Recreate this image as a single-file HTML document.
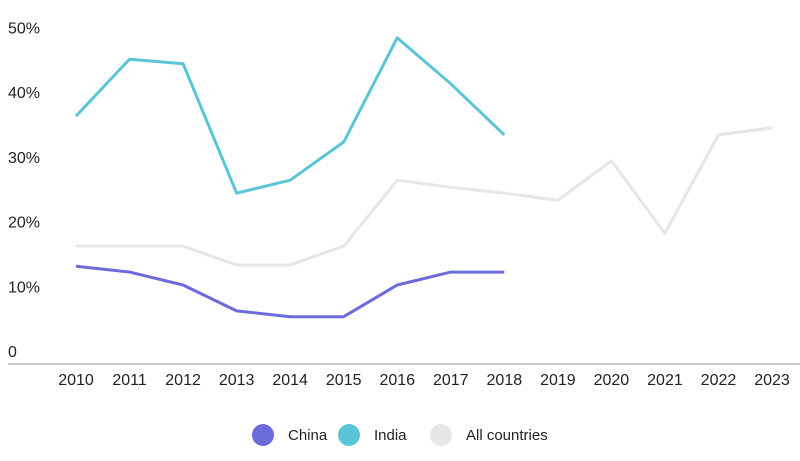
<!DOCTYPE html>
<html><head><meta charset="utf-8"><style>
body{margin:0;background:#fff;}
svg{display:block;font-family:"Liberation Sans",sans-serif;}
</style></head><body>
<svg id="c" width="800" height="461"></svg>
<script>
const years=[2010,2011,2012,2013,2014,2015,2016,2017,2018,2019,2020,2021,2022,2023];
const yTicks=[0,10,20,30,40,50];
const allCountries=[16.2,16.2,16.2,13.3,13.3,16.2,26.4,25.3,24.4,23.3,29.4,18.2,33.4,34.5];
const china=[13.1,12.2,10.2,6.2,5.3,5.3,10.2,12.2,12.2];
const india=[36.3,45.1,44.4,24.4,26.4,32.3,48.4,41.3,33.4];
const svg=document.getElementById('c');
const NS='http://www.w3.org/2000/svg';
function x(i){return 76+i*53.54;}
function y(v){return 351-v*6.47;}
function mk(t,a){const e=document.createElementNS(NS,t);for(const k in a)e.setAttribute(k,a[k]);svg.appendChild(e);return e;}
yTicks.forEach(v=>{
  const t=mk('text',{x:8,y:y(v)+6,'font-size':16,fill:'#222'});
  t.textContent=v===0?'0':v+'%';
  
  
});
const ax=mk('line',{x1:8,x2:800,y1:364,y2:364,stroke:'#ccc','stroke-width':2});


years.forEach((yr,i)=>{
  const t=mk('text',{x:x(i),y:385,'font-size':16,fill:'#222','text-anchor':'middle'});
  t.textContent=yr;
  
  
});
function line(d,col,name){
  const p=mk('polyline',{points:d.map((v,i)=>x(i)+','+y(v)).join(' '),fill:'none',stroke:col,'stroke-width':3,'stroke-linejoin':'round'});
  
  
}
line(allCountries,'#e6e6e6','all-countries-line');
line(china,'#6b6bdc','china-line');
line(india,'#5bc5d8','india-line');
const leg=[['China','#6b6bdc',263],['India','#5bc5d8',349],['All countries','#e6e6e6',441]];
leg.forEach(l=>{
  const c=mk('circle',{cx:l[2],cy:435,r:11,fill:l[1]});
  
  
  const t=mk('text',{x:l[2]+25,y:440,'font-size':15,fill:'#222'});
  t.textContent=l[0];
  
  
});
</script>
</body></html>
